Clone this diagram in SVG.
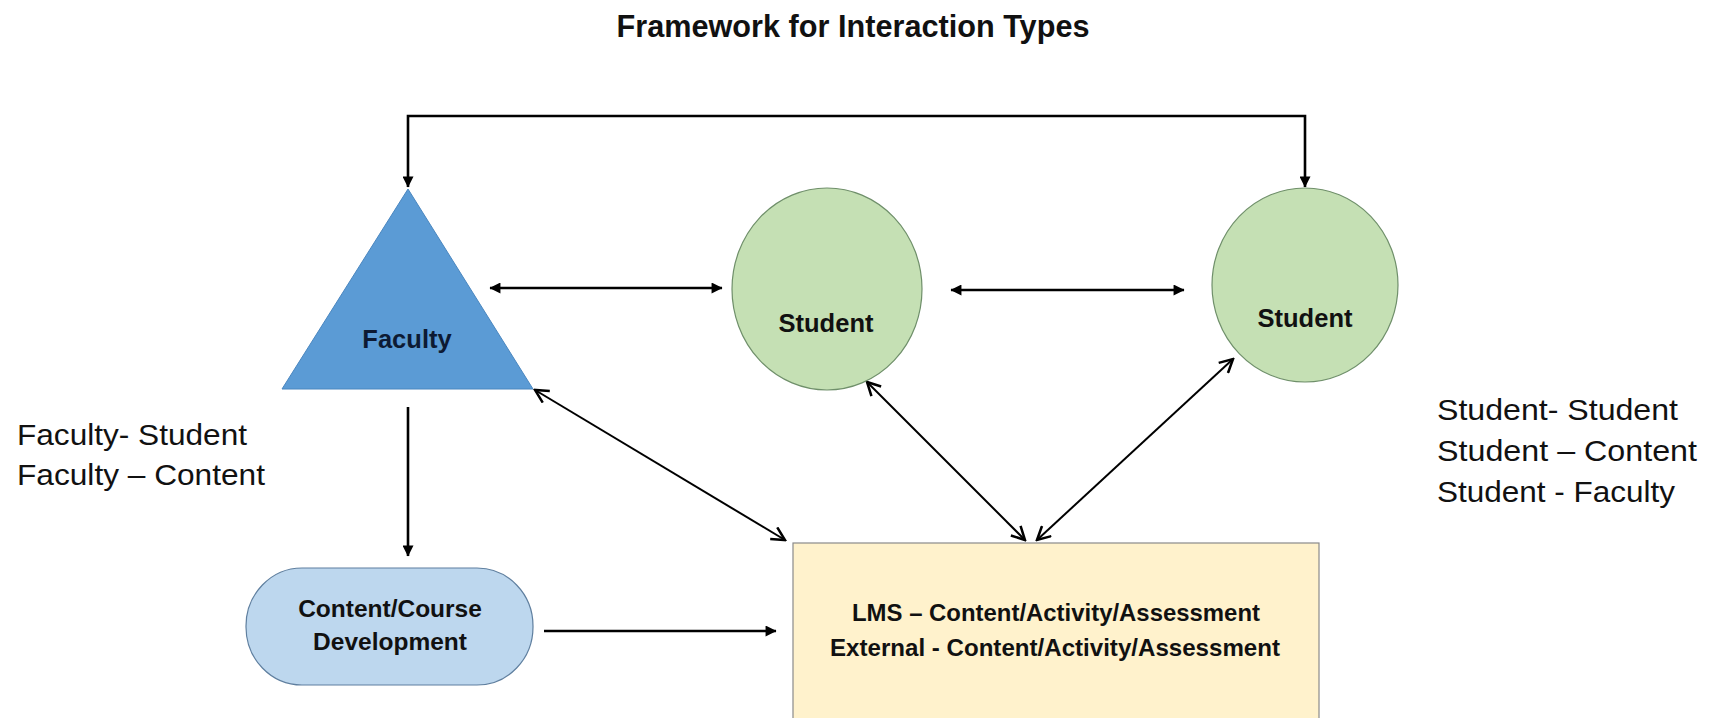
<svg xmlns="http://www.w3.org/2000/svg" width="1710" height="718" viewBox="0 0 1710 718">
  <style>
    .bold { font-family: "Liberation Sans", Arial, sans-serif; font-weight: bold; fill: #111; }
    .plain { font-family: "Liberation Sans", Arial, sans-serif; fill: #111; }
    .link { fill: none; stroke: #000; stroke-width: 2.6; }
    .diag { fill: none; stroke: #000; stroke-width: 2; }
  </style>
  <defs>
    <marker id="solid" viewBox="0 0 10 10" refX="9.5" refY="5" markerWidth="12" markerHeight="11" markerUnits="userSpaceOnUse" orient="auto-start-reverse">
      <path d="M0,0 L10,5 L0,10 z" fill="#000"/>
    </marker>
    <marker id="open" viewBox="0 0 14 14" refX="12.5" refY="7" markerWidth="16" markerHeight="16" markerUnits="userSpaceOnUse" orient="auto-start-reverse">
      <path d="M1,1 L12.5,7 L1,13" fill="none" stroke="#000" stroke-width="2.2"/>
    </marker>
  </defs>

  <rect width="1710" height="718" fill="#fff"/>

  <text class="bold" x="853" y="37" font-size="30.5" text-anchor="middle" textLength="473" lengthAdjust="spacingAndGlyphs">Framework for Interaction Types</text>

  <!-- connectors -->
  <g id="connectors">
    <path class="link" d="M408,187 V116 H1305 V187" marker-start="url(#solid)" marker-end="url(#solid)"/>
    <line class="link" x1="490" y1="288" x2="722" y2="288" marker-start="url(#solid)" marker-end="url(#solid)"/>
    <line class="link" x1="951" y1="290" x2="1184" y2="290" marker-start="url(#solid)" marker-end="url(#solid)"/>
    <line class="link" x1="408" y1="407" x2="408" y2="556" marker-end="url(#solid)"/>
    <line class="link" x1="544" y1="631" x2="776" y2="631" marker-end="url(#solid)"/>
    <line class="diag" x1="535" y1="390" x2="785" y2="540" marker-start="url(#open)" marker-end="url(#open)"/>
    <line class="diag" x1="867" y1="382" x2="1025" y2="540" marker-start="url(#open)" marker-end="url(#open)"/>
    <line class="diag" x1="1233" y1="359" x2="1037" y2="540" marker-start="url(#open)" marker-end="url(#open)"/>
  </g>

  <g id="faculty">
    <polygon points="408,189 282,389 533,389" fill="#5B9BD5" stroke="#4a86bf" stroke-width="1"/>
    <text class="bold" x="407" y="348" font-size="25.5" text-anchor="middle" fill="#0d1a33" style="fill:#0d1a33">Faculty</text>
  </g>

  <g id="student1">
    <ellipse cx="827" cy="289" rx="95" ry="101" fill="#C5E0B4" stroke="#6f8f6a" stroke-width="1.2"/>
    <text class="bold" x="826" y="332" font-size="25.5" text-anchor="middle">Student</text>
  </g>

  <g id="student2">
    <ellipse cx="1305" cy="285" rx="93" ry="97" fill="#C5E0B4" stroke="#6f8f6a" stroke-width="1.2"/>
    <text class="bold" x="1305" y="327" font-size="25.5" text-anchor="middle">Student</text>
  </g>

  <g id="content">
    <rect x="246" y="568" width="287" height="117" rx="56" ry="58" fill="#BDD7EE" stroke="#5f7f9f" stroke-width="1.2"/>
    <text class="bold" x="390" y="617" font-size="24.5" text-anchor="middle">Content/Course</text>
    <text class="bold" x="390" y="650" font-size="24.5" text-anchor="middle">Development</text>
  </g>

  <g id="lms">
    <rect x="793" y="543" width="526" height="190" fill="#FFF2CC" stroke="#8a8a8a" stroke-width="1.2"/>
    <text class="bold" x="1056" y="621" font-size="24" text-anchor="middle" textLength="408" lengthAdjust="spacingAndGlyphs">LMS – Content/Activity/Assessment</text>
    <text class="bold" x="1055" y="656" font-size="24" text-anchor="middle" textLength="450" lengthAdjust="spacingAndGlyphs">External - Content/Activity/Assessment</text>
  </g>

  <g id="faculty-notes">
    <text class="plain" x="17" y="445" font-size="30" textLength="230" lengthAdjust="spacingAndGlyphs">Faculty- Student</text>
    <text class="plain" x="17" y="485" font-size="30" textLength="248" lengthAdjust="spacingAndGlyphs">Faculty – Content</text>
  </g>

  <g id="student-notes">
    <text class="plain" x="1437" y="420" font-size="30" textLength="241" lengthAdjust="spacingAndGlyphs">Student- Student</text>
    <text class="plain" x="1437" y="461" font-size="30" textLength="260" lengthAdjust="spacingAndGlyphs">Student – Content</text>
    <text class="plain" x="1437" y="502" font-size="30" textLength="238" lengthAdjust="spacingAndGlyphs">Student - Faculty</text>
  </g>
</svg>
